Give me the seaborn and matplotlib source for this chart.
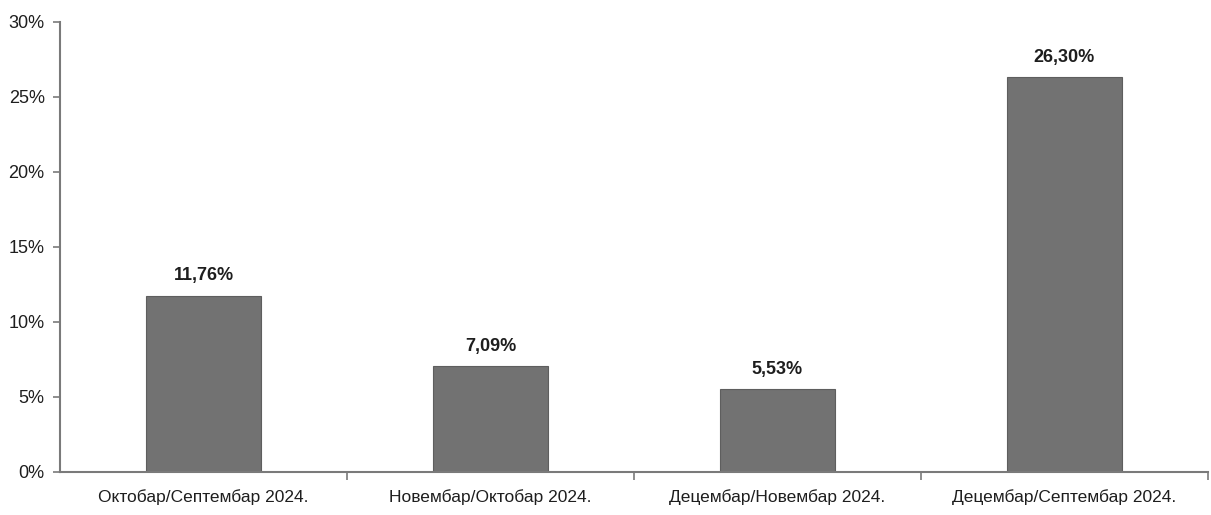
import matplotlib
matplotlib.use("Agg")
import matplotlib.pyplot as plt
import seaborn as sns
import pandas as pd
from matplotlib.ticker import FixedLocator, PercentFormatter
from matplotlib import font_manager

categories = ["Октобар/Септембар 2024.", "Новембар/Октобар 2024.",
              "Децембар/Новембар 2024.", "Децембар/Септембар 2024."]
values = [11.76, 7.09, 5.53, 26.30]
value_labels = ["11,76%", "7,09%", "5,53%", "26,30%"]
yticks = [0, 5, 10, 15, 20, 25, 30]

sns.set_theme(style="white")
names = {f.name for f in font_manager.fontManager.ttflist}
fam = "Liberation Sans Narrow" if "Liberation Sans Narrow" in names else "Liberation Sans"
plt.rcParams["font.family"] = [fam, "DejaVu Sans"]

df = pd.DataFrame({"cat": categories, "val": values})

fig = plt.figure(figsize=(12.11, 5.15), dpi=100)
ax = fig.add_axes([0.0495, 0.0835, 0.948, 0.874])
sns.barplot(data=df, x="cat", y="val", color="#727272", saturation=1,
            width=0.4, ax=ax, edgecolor="#5e5e5e", linewidth=0.8)

ax.set_xlim(-0.5, 3.5)
ax.set_ylim(0, 30)
ax.set_yticks(yticks)
ax.yaxis.set_major_formatter(PercentFormatter(decimals=0))
ax.set_xlabel("")
ax.set_ylabel("")

for s in ["top", "right"]:
    ax.spines[s].set_visible(False)
for s in ["left", "bottom"]:
    ax.spines[s].set_color("#7a7a7a")
    ax.spines[s].set_linewidth(1.5)

ax.tick_params(axis="y", which="major", left=True, length=5, width=1.2,
               color="#7a7a7a", labelsize=13, labelcolor="#1e1e1e", pad=6)
ax.tick_params(axis="x", which="major", bottom=False, length=0,
               labelsize=12.5, labelcolor="#1e1e1e", pad=12)
ax.xaxis.set_minor_locator(FixedLocator([0.5, 1.5, 2.5, 3.5]))
ax.tick_params(axis="x", which="minor", bottom=True, length=6, width=1.2,
               color="#7a7a7a")

for i, (v, lab) in enumerate(zip(values, value_labels)):
    ax.annotate(lab, (i, v), xytext=(0, 8), textcoords="offset points",
                ha="center", va="bottom", fontsize=13, fontweight="bold",
                color="#1e1e1e")

fig.savefig("out.png", dpi=100)
